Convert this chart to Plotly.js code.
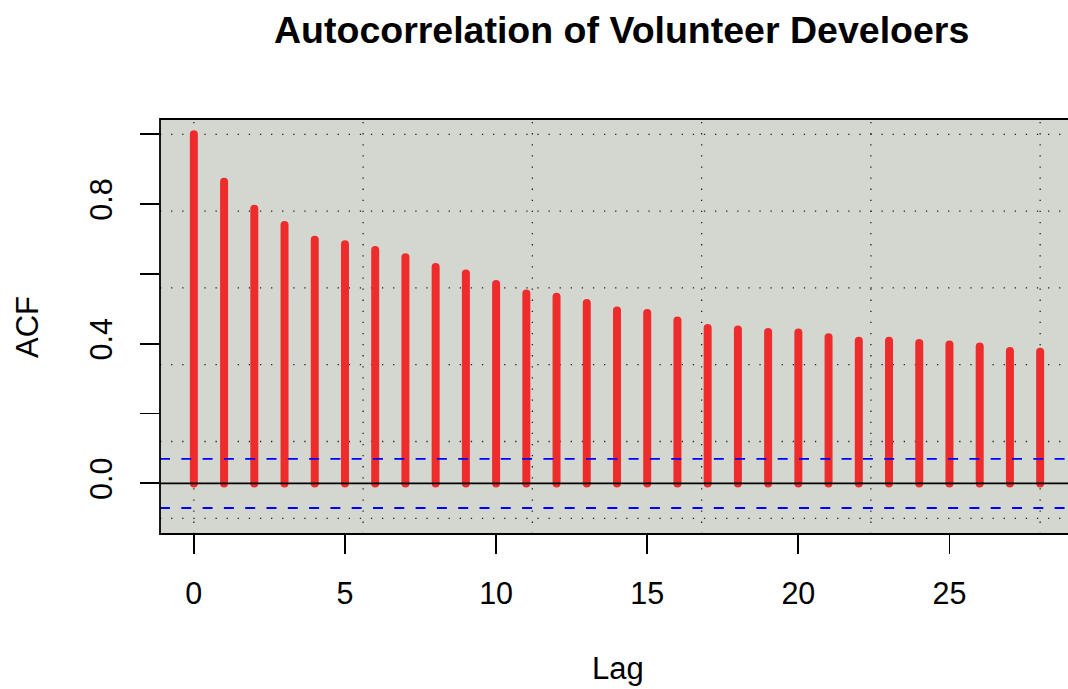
<!DOCTYPE html>
<html>
<head>
<meta charset="utf-8">
<script src="https://cdn.plot.ly/plotly-3.0.1.min.js"></script>
<style>
html, body { margin:0; padding:0; overflow:hidden; background:#fff; }
#chart { width:1080px; height:689px; }
path.js-line { stroke-linecap: round !important; }
</style>
</head>
<body>
<div id="chart"></div>
<script>
// ---- data ----
const lags = [0,1,2,3,4,5,6,7,8,9,10,11,12,13,14,15,16,17,18,19,20,21,22,23,24,25,26,27,28];
const acfValues = [1.000,0.864,0.787,0.740,0.698,0.685,0.669,0.648,0.620,0.601,0.571,0.544,0.535,0.517,0.495,0.488,0.467,0.445,0.441,0.434,0.432,0.419,0.409,0.409,0.402,0.398,0.392,0.379,0.377];
const ciLimit = 0.0705;
const xTickVals = [0,5,10,15,20,25];
const xTickText = ['0','5','10','15','20','25'];
const yTickVals = [0,0.2,0.4,0.6,0.8,1.0];
const yTickText = ['0.0','','0.4','','0.8',''];
const gridX = [0,5.6,11.2,16.8,22.4,28];
const gridY = [-0.1,0.12,0.34,0.56,0.78,1.0];
const titleText = 'Autocorrelation of Volunteer Develoers';
const xLabel = 'Lag';
const yLabel = 'ACF';

// ---- build stems ----
const stemX = [], stemY = [];
lags.forEach((l,i) => { stemX.push(l,l,null); stemY.push(0,acfValues[i],null); });

const FONT = 'Liberation Sans, Arial, Helvetica, sans-serif';

const shapes = [];
gridX.forEach(g => shapes.push({type:'line', layer:'below', xref:'x', yref:'paper', x0:g, x1:g, y0:0, y1:1,
  line:{color:'#222', width:1.3, dash:'1.3px,9.8px'}}));
gridY.forEach(g => shapes.push({type:'line', layer:'below', xref:'paper', yref:'y', x0:0, x1:1, y0:g, y1:g,
  line:{color:'#222', width:1.3, dash:'1.3px,9.8px'}}));
shapes.push({type:'line', layer:'above', xref:'paper', yref:'y', x0:0, x1:1, y0:0, y1:0, line:{color:'black', width:1.8}});
[ciLimit, -ciLimit].forEach(c => shapes.push({type:'line', layer:'above', xref:'paper', yref:'y', x0:0, x1:1, y0:c, y1:c,
  line:{color:'#0000FF', width:1.8, dash:'10px,11.3px'}}));
shapes.push({type:'rect', layer:'above', xref:'paper', yref:'paper', x0:0, x1:1, y0:0, y1:1, line:{color:'black', width:1.8}});

const trace = {
  x: stemX, y: stemY, type:'scatter', mode:'lines',
  line:{color:'#EE2C2C', width:8}, hoverinfo:'skip', showlegend:false
};

const layout = {
  width:1080, height:689,
  margin:{l:160, r:6, t:119, b:155, pad:0},
  paper_bgcolor:'#FFFFFF', plot_bgcolor:'#D4D7D0',
  font:{family:FONT, color:'black', size:30},
  showlegend:false,
  xaxis:{range:[-1.12,29.12], tickvals:xTickVals, ticktext:xTickText, ticks:'outside', ticklen:19, tickwidth:1.8, tickcolor:'black',
    showgrid:false, zeroline:false, showline:false, tickfont:{size:30.5, family:FONT}, ticklabelstandoff:13},
  yaxis:{range:[-0.145,1.044], tickvals:yTickVals, ticktext:yTickText, ticks:'outside', ticklen:19, tickwidth:1.8, tickcolor:'black',
    showgrid:false, zeroline:false, showline:false, tickangle:-90, tickfont:{size:30.5, family:FONT}, ticklabelstandoff:16},
  shapes: shapes,
  annotations:[
    {text:'<b>'+titleText+'</b>', xref:'paper', yref:'paper', x:0.505, y:(534-30)/415, xanchor:'center', yanchor:'middle', showarrow:false,
      font:{size:37.5, family:FONT, color:'black'}},
    {text:xLabel, xref:'paper', yref:'paper', x:(618-160)/914, y:(534-668)/415, xanchor:'center', yanchor:'middle', showarrow:false,
      font:{size:31, family:FONT, color:'black'}},
    {text:yLabel, xref:'paper', yref:'paper', x:(27-160)/914, y:(534-327)/415, xanchor:'center', yanchor:'middle', showarrow:false, textangle:-90,
      font:{size:31, family:FONT, color:'black'}}
  ]
};

Plotly.newPlot('chart', [trace], layout, {displayModeBar:false, staticPlot:true});
</script>
</body>
</html>
